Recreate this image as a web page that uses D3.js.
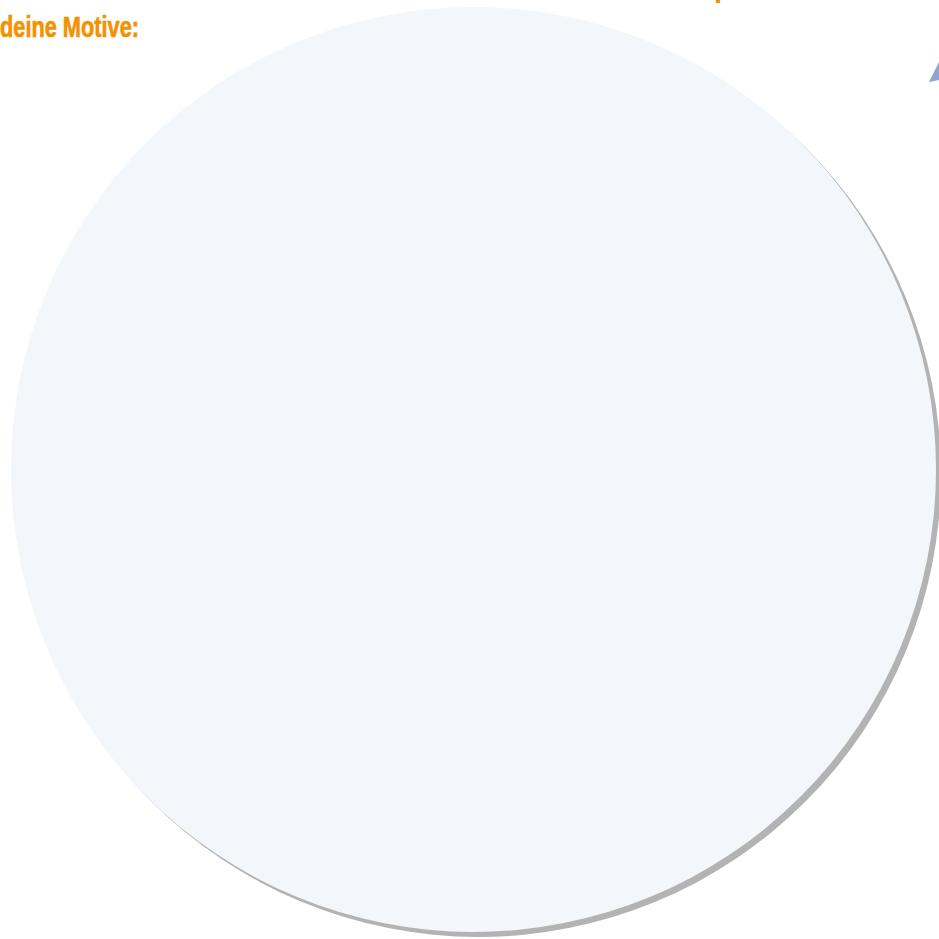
<!DOCTYPE html>
<html>
<head>
<meta charset="utf-8">
<script src="https://cdn.jsdelivr.net/npm/d3@7"></script>
<style>
	body { margin: 0; background: #ffffff; }
	svg { display: block; }
</style>
</head>
<body>
<script>
var sliceNames = ["Motive"]
var sliceValues = [100]
var labelTexts = ["deine Motive:", "p"]

function main() {
	var w = 939
	var h = 939
	var cx = 473.5
	var cy = 469.5
	var radius = 462.5

	var svg = d3.select("body")
		.append("svg")
		.attr("width", w)
		.attr("height", h)

	var pie = d3.pie().sort(null)
	var arc = d3.arc().innerRadius(0).outerRadius(radius)
	var slices = pie(sliceValues)

	// shadow
	svg.append("g")
		.attr("transform", "translate(" + (cx + 5) + "," + (cy + 5) + ")")
		.selectAll("path")
		.data(slices)
		.enter()
		.append("path")
		.attr("d", arc)
		.attr("fill", "#b3b3b3")

	// pie
	svg.append("g")
		.attr("transform", "translate(" + cx + "," + cy + ")")
		.selectAll("path")
		.data(slices)
		.enter()
		.append("path")
		.attr("class", "slice")
		.attr("d", arc)
		.attr("fill", "#f3f6fb")

	// labels
	svg.append("text")
		.attr("x", 0)
		.attr("y", 36.5)
		.attr("fill", "#f39200")
		.attr("stroke", "#f39200")
		.attr("stroke-width", 0.7)
		.style("font-family", "'Liberation Sans Narrow', 'Liberation Sans', sans-serif")
		.style("font-weight", "bold")
		.style("font-size", "29px")
		.attr("textLength", 139)
		.attr("lengthAdjust", "spacingAndGlyphs")
		.text(labelTexts[0])

	svg.append("text")
		.attr("x", 714)
		.attr("y", -3)
		.attr("fill", "#f39200")
		.style("font-family", "'Liberation Sans Narrow', 'Liberation Sans', sans-serif")
		.style("font-weight", "bold")
		.style("font-size", "29px")
		.text(labelTexts[1])

	// arrow tip
	svg.append("path")
		.attr("d", "M929,82 L939,62 L939,80 Z")
		.attr("fill", "#8ea5cc")
}

main()
</script>
</body>
</html>
